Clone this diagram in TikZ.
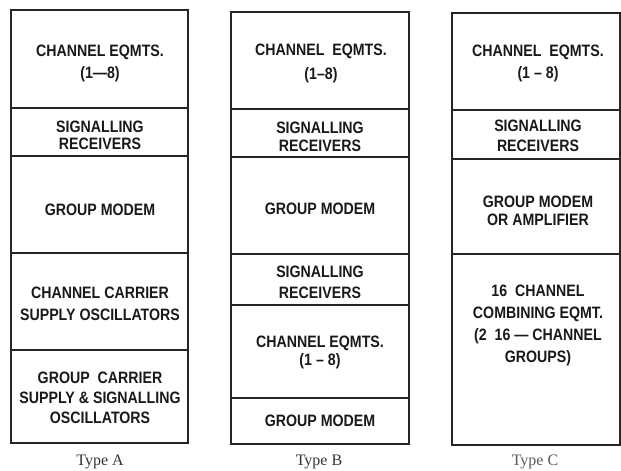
\documentclass[tikz,border=0pt]{standalone}
\usepackage{fontspec}
\setmainfont{Liberation Serif}
\setsansfont{Liberation Sans}[FakeStretch=0.86]
\begin{document}
\begin{tikzpicture}[x=1pt,y=-1pt,
  rack/.style={draw=black!85,line width=1.6pt},
  sep/.style={draw=black!85,line width=1.3pt},
  lbl/.style={font=\sffamily\bfseries\fontsize{16.5}{#1}\selectfont,align=center,text=black!90,inner sep=0pt},
  lbl/.default=21,
  typelbl/.style={font=\rmfamily\fontsize{16}{18}\selectfont,text=black!80,inner sep=0pt}]
\useasboundingbox (0,0) rectangle (621,471);
% Type A
\draw[rack] (11,10) rectangle (188,443);
\foreach \y in {108,156,253,350} \draw[sep] (11,\y) -- (188,\y);
\node[lbl=22] (a1) at (100,63) {CHANNEL EQMTS.\\(1—8)};
\node[lbl=17] (a2) at (100,135.5) {SIGNALLING\\RECEIVERS};
\node[lbl] (a3) at (100,210) {GROUP MODEM};
\node[lbl=22] (a4) at (100,304) {CHANNEL CARRIER\\SUPPLY OSCILLATORS};
\node[lbl=20] (a5) at (100,398) {GROUP\ \ CARRIER\\SUPPLY \& SIGNALLING\\OSCILLATORS};
\node[typelbl] (ta) at (100,462) {Type A};
% Type B
\draw[rack] (231,12) rectangle (409,444);
\foreach \y in {109,157,254,305,398} \draw[sep] (231,\y) -- (409,\y);
\node[lbl=24] (b1) at (321,63) {CHANNEL\ \ EQMTS.\\(1–8)};
\node[lbl=18] (b2) at (320,137) {SIGNALLING\\RECEIVERS};
\node[lbl] (b3) at (320,209) {GROUP MODEM};
\node[lbl=21] (b4) at (320,282.5) {SIGNALLING\\RECEIVERS};
\node[lbl=18] (b5) at (320,352) {CHANNEL EQMTS.\\(1 – 8)};
\node[lbl] (b6) at (320,421) {GROUP MODEM};
\node[typelbl] (tb) at (319,462) {Type B};
% Type C
\draw[rack] (452,13) rectangle (620,445);
\foreach \y in {110,159,254} \draw[sep] (452,\y) -- (620,\y);
\node[lbl=22] (c1) at (538,63) {CHANNEL\ \ EQMTS.\\(1 – 8)};
\node[lbl=20] (c2) at (538,136) {SIGNALLING\\RECEIVERS};
\node[lbl=18] (c3) at (538,211) {GROUP MODEM\\OR AMPLIFIER};
\node[lbl=22] (c4) at (538,325) {16\ \ CHANNEL\\COMBINING EQMT.\\(2\ \ 16 — CHANNEL\\GROUPS)};
\node[typelbl,text=black!65] (tc) at (535,462) {Type C};
\end{tikzpicture}
\end{document}
